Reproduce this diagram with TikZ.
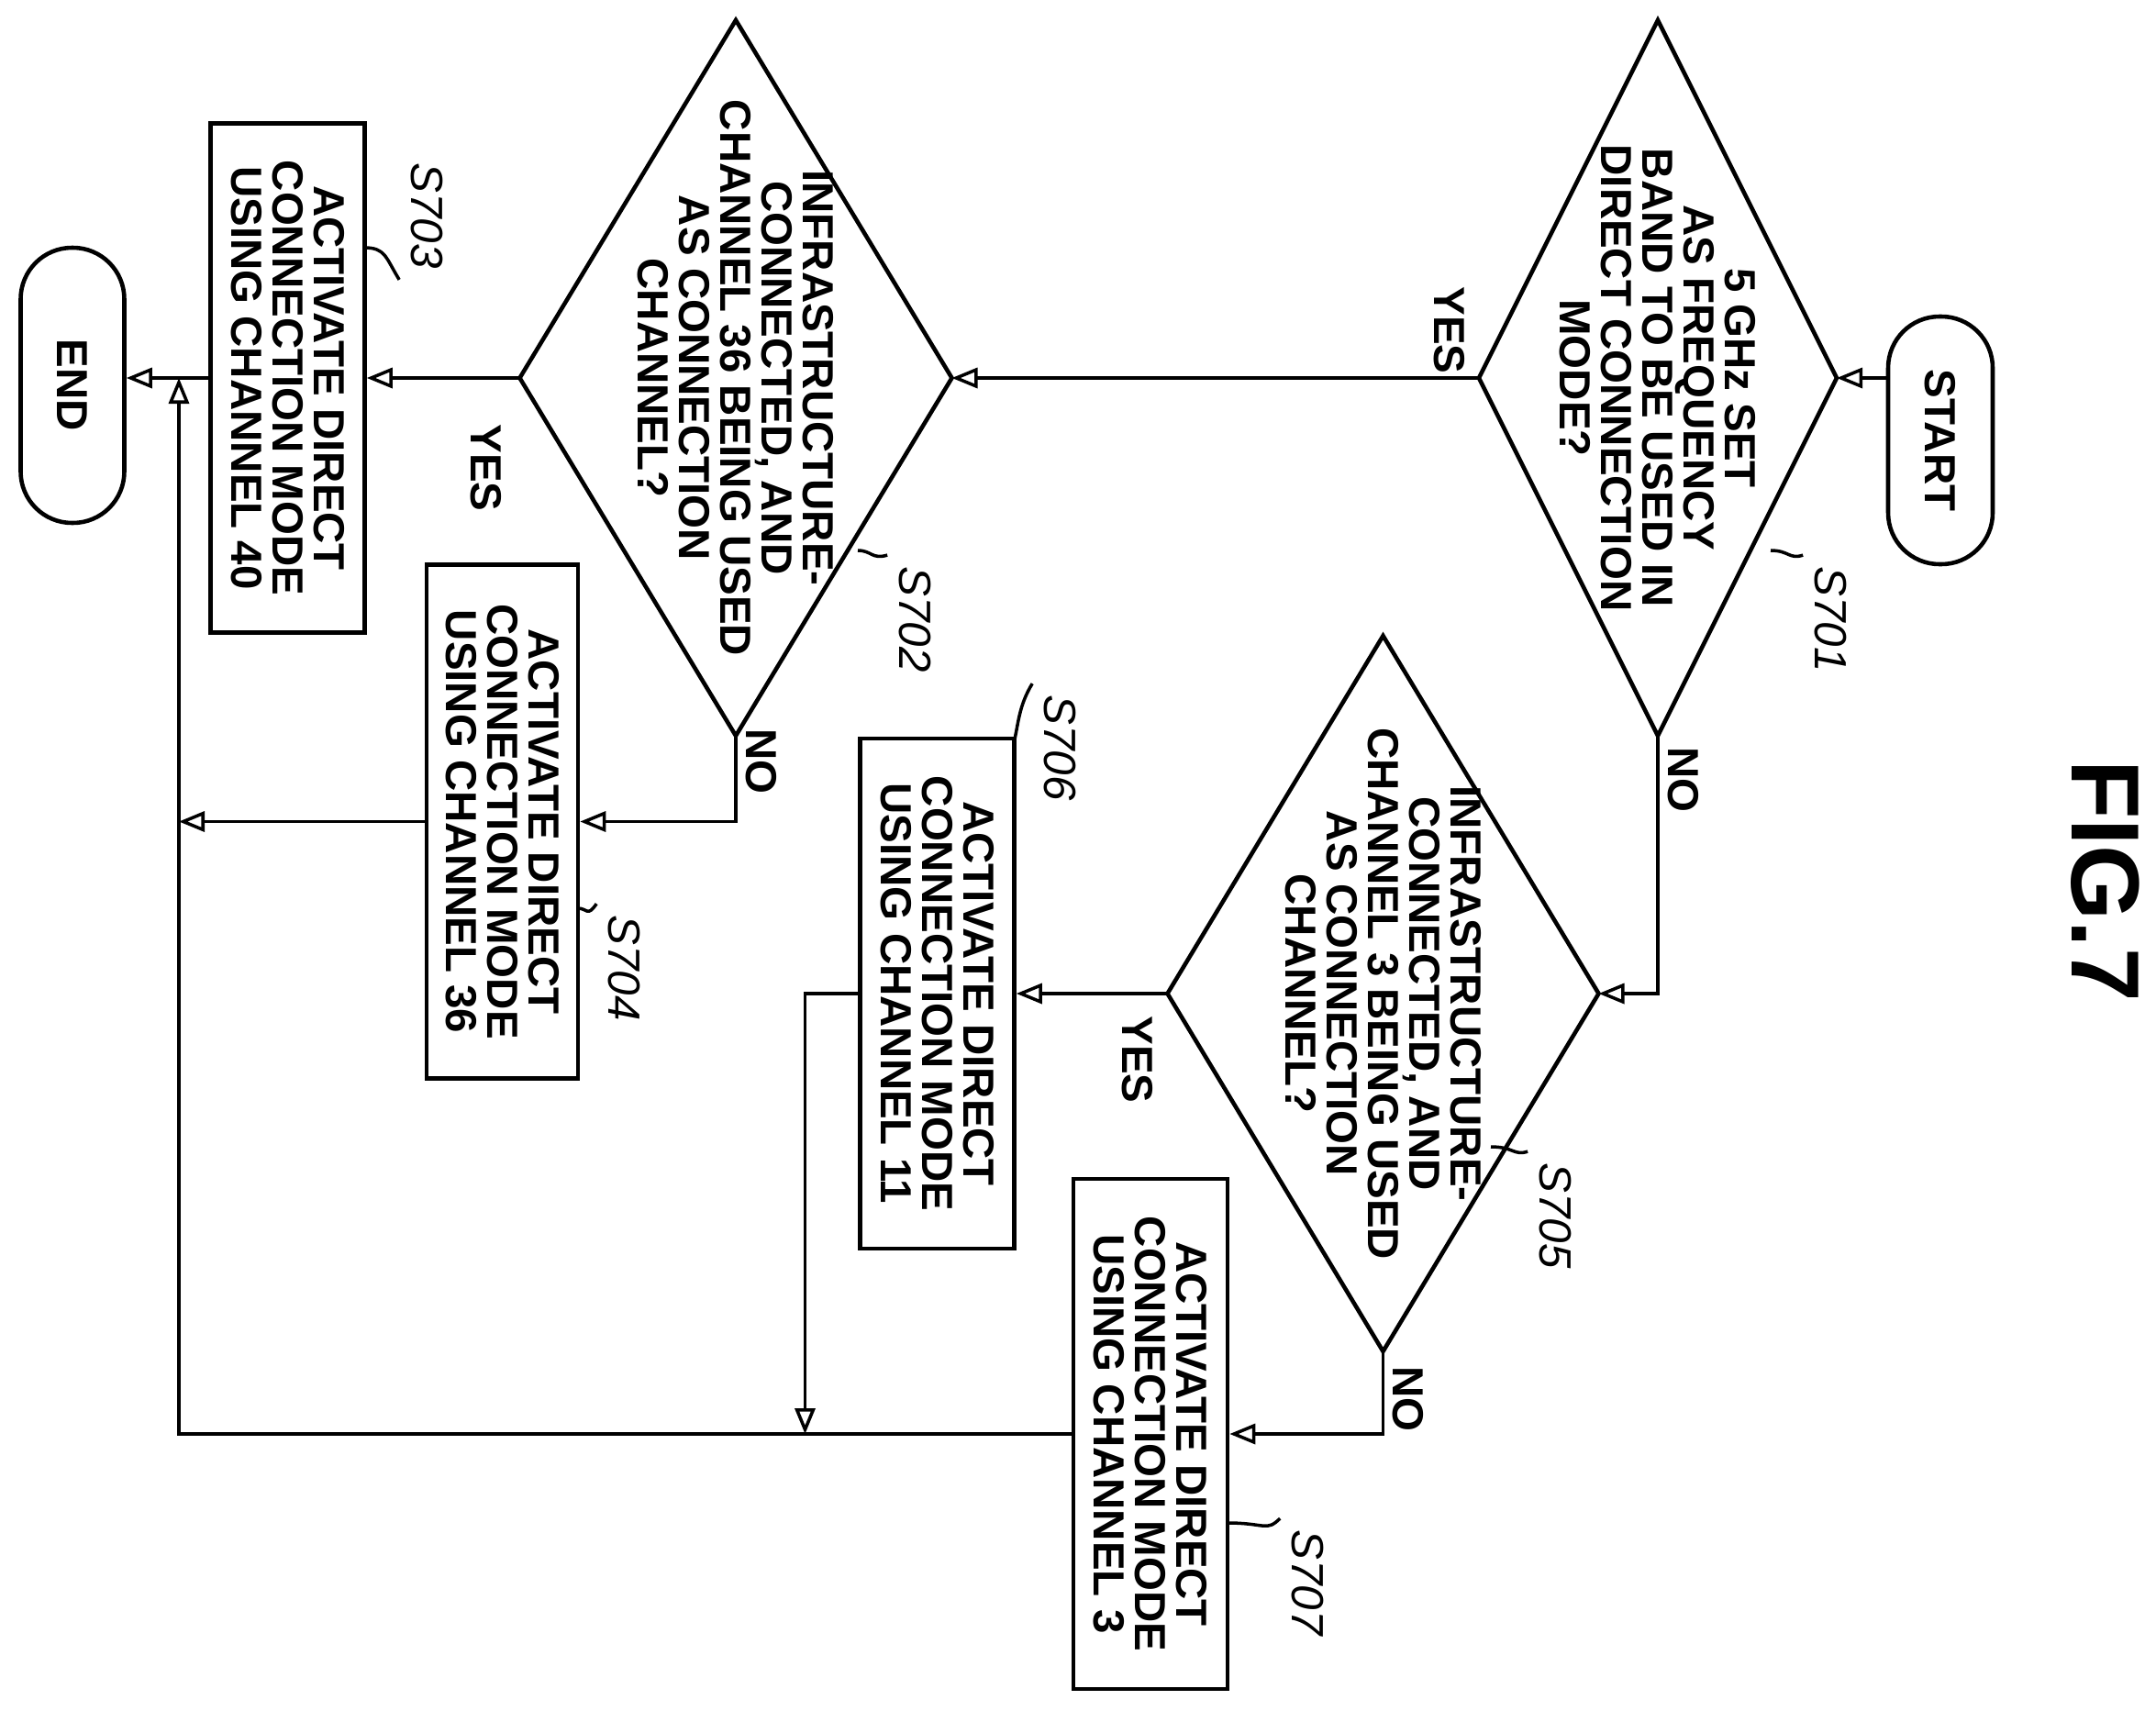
\documentclass[tikz,border=0pt]{standalone}
\usepackage{fontspec}
\setmainfont{Liberation Sans}
\usetikzlibrary{arrows.meta}
\begin{document}
\begin{tikzpicture}[
  every node/.style={font=\fontsize{13.5}{12.8}\selectfont\bfseries, align=center},
  rt/.style={rotate=-90},
  box/.style={draw, line width=1.3pt, rt, inner sep=0pt},
  term/.style={draw, line width=1.3pt, rt, rounded corners=0.56cm, inner sep=0pt},
  ln/.style={line width=1pt},
  arr/.style={ln,-{Triangle[open,length=0.28cm,width=0.22cm]}},
  lab/.style={rt, font=\fontsize{14}{15}\selectfont\itshape},
  dia/.style={draw, line width=1.3pt}
]
\useasboundingbox (0,0) rectangle (23.5,-18.65);
% terminals and boxes
\node[term, minimum width=2.7cm, minimum height=1.14cm] (start) at (21.15,-4.8) {START};
\node[term, minimum width=3.0cm, minimum height=1.13cm] (end) at (0.79,-4.2) {END};
\node[box, minimum width=5.55cm, minimum height=1.68cm] (s703) at (3.135,-4.12) {ACTIVATE DIRECT\\CONNECTION MODE\\USING CHANNEL 40};
\node[box, minimum width=5.6cm, minimum height=1.65cm] (s704) at (5.475,-8.955) {ACTIVATE DIRECT\\CONNECTION MODE\\USING CHANNEL 36};
\node[box, minimum width=5.56cm, minimum height=1.68cm] (s706) at (10.215,-10.83) {ACTIVATE DIRECT\\CONNECTION MODE\\USING CHANNEL 11};
\node[box, minimum width=5.56cm, minimum height=1.68cm] (s707) at (12.54,-15.63) {ACTIVATE DIRECT\\CONNECTION MODE\\USING CHANNEL 3};
% diamonds
\coordinate (d1) at (18.07,-4.12);
\coordinate (d1l) at (16.12,-4.12); \coordinate (d1r) at (20.02,-4.12);
\coordinate (d1t) at (18.07,-0.22); \coordinate (d1b) at (18.07,-8.02);
\draw[dia] (d1l)--(d1t)--(d1r)--(d1b)--cycle;
\node[rt] (t701) at (d1) {5 GHz SET\\AS FREQUENCY\\BAND TO BE USED IN\\DIRECT CONNECTION\\MODE?};
\coordinate (d2) at (8.02,-4.12);
\coordinate (d2l) at (5.665,-4.12); \coordinate (d2r) at (10.375,-4.12);
\coordinate (d2t) at (8.02,-0.22); \coordinate (d2b) at (8.02,-8.02);
\draw[dia] (d2l)--(d2t)--(d2r)--(d2b)--cycle;
\node[rt] (t702) at (d2) {INFRASTRUCTURE-\\CONNECTED, AND\\CHANNEL 36 BEING USED\\AS CONNECTION\\CHANNEL?};
\coordinate (d5) at (15.075,-10.83);
\coordinate (d5l) at (12.725,-10.83); \coordinate (d5r) at (17.425,-10.83);
\coordinate (d5t) at (15.075,-6.93); \coordinate (d5b) at (15.075,-14.73);
\draw[dia] (d5l)--(d5t)--(d5r)--(d5b)--cycle;
\node[rt] (t705) at (d5) {INFRASTRUCTURE-\\CONNECTED, AND\\CHANNEL 3 BEING USED\\AS CONNECTION\\CHANNEL?};
% connectors
\coordinate (ret) at (1.95,-4.12);
\coordinate (retb) at (1.95,-15.63);
\coordinate (j706) at (8.775,-10.83);
\coordinate (j706b) at (8.775,-15.63);
\draw[arr] (start.south |- d1r) -- (d1r);
\draw[arr] (d1l) -- (d2r);
\draw[arr] (d1b) |- (d5r);
\draw[arr] (d2l) -- (s703.north);
\draw[arr] (s703.south) -- (end.north |- s703.south);
\draw[arr] (d2b) |- (s704.north);
\draw[arr] (s704.south) -- (1.95,-8.955);
\draw[arr] (d5l) -- (s706.north);
\draw[arr] (d5b) |- (s707.north);
\draw[arr] (s706.south) -- (j706) -- (j706b);
\draw[arr] (s707.south) -- (retb) -- (ret);
% yes/no
\node[rt] at (15.8,-3.6) {YES};
\node[rt] at (18.35,-8.5) {NO};
\node[rt] at (5.3,-5.1) {YES};
\node[rt] at (8.3,-8.3) {NO};
\node[rt] at (12.4,-11.55) {YES};
\node[rt] at (15.35,-15.25) {NO};
% step labels
\node[lab] (l701) at (19.95,-6.75) {S701};
\node[lab] (l702) at (9.97,-6.75) {S702};
\node[lab] (l703) at (4.65,-2.35) {S703};
\node[lab] (l704) at (6.8,-10.55) {S704};
\node[lab] (l705) at (16.95,-13.25) {S705};
\node[lab] (l706) at (11.55,-8.15) {S706};
\node[lab] (l707) at (14.25,-17.25) {S707};
\draw[ln] (l701.south west) .. controls (19.5,-6.1) and (19.5,-6.0) .. (19.3,-6.0);
\draw[ln] (l702.south west) .. controls (9.5,-6.1) and (9.5,-6.0) .. (9.35,-6.0);
\draw[ln] (l703.south east) .. controls (4.2,-2.8) and (4.2,-2.7) .. (3.97,-2.7);
\draw[ln] (l704.south west) .. controls (6.4,-10.0) and (6.4,-9.9) .. (6.3,-9.9);
\draw[ln] (l705.south west) .. controls (16.5,-12.6) and (16.5,-12.5) .. (16.25,-12.5);
\draw[ln] (l706.south west) .. controls (11.1,-7.7) and (11.1,-7.9) .. (11.05,-8.1);
\draw[ln] (l707.south west) .. controls (13.8,-16.7) and (13.8,-16.6) .. (13.38,-16.6);
\node[rt, font=\fontsize{30}{32}\selectfont\bfseries] (fig) at (22.95,-9.6) {FIG.7};
\end{tikzpicture}
\end{document}
